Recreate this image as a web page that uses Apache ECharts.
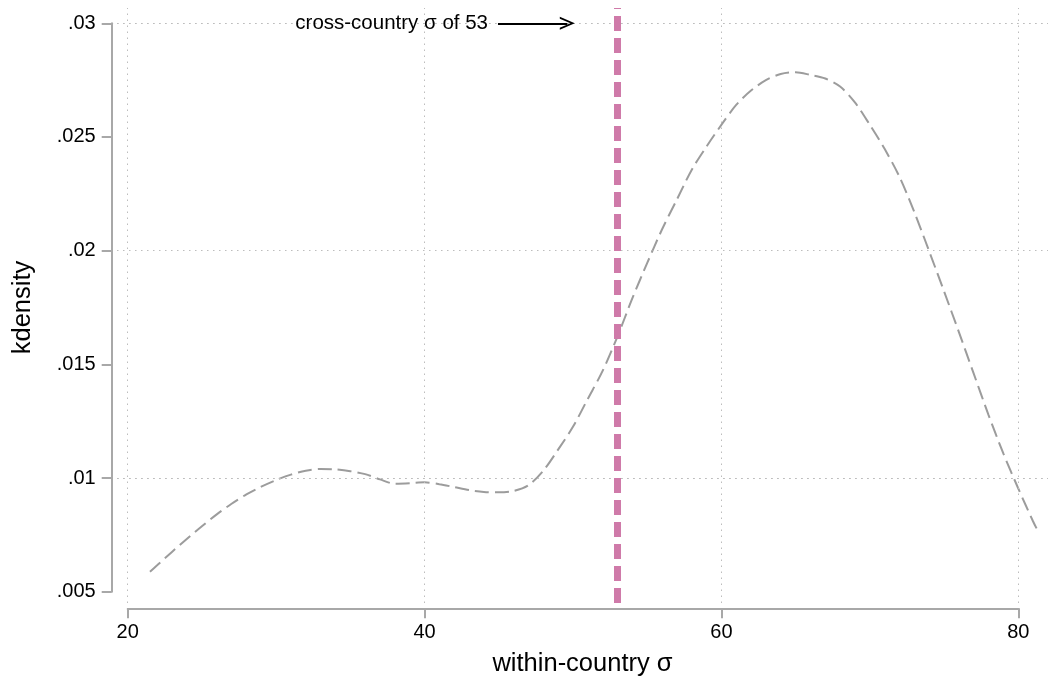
<!DOCTYPE html>
<html>
<head>
<meta charset="utf-8">
<script src="https://cdn.jsdelivr.net/npm/echarts@6/dist/echarts.min.js"></script>
<style>html,body{margin:0;padding:0;background:#fff}#c{width:1050px;height:685px}</style>
</head>
<body>
<div id="c"></div>
<script>
// ---- data ----
const curveX = [21.5, 22, 23, 24, 25, 26, 27, 28, 29, 30, 31, 32, 33, 34, 35, 36, 37, 38, 39, 40, 41, 42, 43, 44, 45, 46, 47, 48, 49, 50, 51, 52, 53, 54, 55, 56, 57, 58, 59, 60, 61, 62, 63, 64, 65, 66, 67, 68, 69, 70, 71, 72, 73, 74, 75, 76, 77, 78, 79, 80, 81, 81.4];
const curveY = [0.00588, 0.00617, 0.00676, 0.00733, 0.00788, 0.00840, 0.00887, 0.00928, 0.00962, 0.00991, 0.01015, 0.01032, 0.01040, 0.01038, 0.01030, 0.01017, 0.00994, 0.00975, 0.00977, 0.00981, 0.00973, 0.00960, 0.00947, 0.00939, 0.00937, 0.00943, 0.00968, 0.01032, 0.01125, 0.01225, 0.01348, 0.01471, 0.01622, 0.01790, 0.01945, 0.02093, 0.02224, 0.02355, 0.02458, 0.02553, 0.02641, 0.02704, 0.02750, 0.02777, 0.02785, 0.02773, 0.02757, 0.02722, 0.02652, 0.02554, 0.02448, 0.02325, 0.02170, 0.01998, 0.01822, 0.01643, 0.01460, 0.01278, 0.01108, 0.00955, 0.00810, 0.00758];
const xTicks = [20, 40, 60, 80];
const yTicks = [0.005, 0.01, 0.015, 0.02, 0.025, 0.03];
const crossCountry = 53;
const annotText = 'cross-country σ of 53';
const arrowFrom = [44.95, 0.03];
const arrowTo = [49.62, 0.03];

const FONT = '"Liberation Sans", Arial, Helvetica, sans-serif';
const curveData = curveX.map((x, i) => [x, curveY[i]]);
const fmtY = v => String(v).replace(/^0\./, '.');

const chart = echarts.init(document.getElementById('c'), null, {renderer: 'canvas'});
chart.setOption({
  animation: false,
  backgroundColor: '#fff',
  textStyle: {fontFamily: FONT},
  grid: [
    {left: 117, right: 2, top: 8, bottom: 82},
    {left: 127.7, right: 31.7, top: 23.3, bottom: 93.3}
  ],
  xAxis: [
    {gridIndex: 0, type: 'value', min: 19.279, max: 82.01,
     axisLine: {show: false}, axisTick: {show: false}, axisLabel: {show: false}, splitLine: {show: false},
     name: 'within-country σ', nameLocation: 'middle', nameGap: 48,
     nameTextStyle: {fontSize: 25.5, color: '#000', fontFamily: FONT}},
    {gridIndex: 1, type: 'value', min: 20, max: 80, interval: 20, offset: 16.6,
     axisLine: {show: true, lineStyle: {color: '#a8a8a8', width: 2}},
     axisTick: {show: true, length: 10, lineStyle: {color: '#a8a8a8', width: 2}},
     axisLabel: {show: true, margin: 14, fontSize: 20, color: '#000', fontFamily: FONT},
     splitLine: {show: false}}
  ],
  yAxis: [
    {gridIndex: 0, type: 'value', min: 0.004503, max: 0.030673,
     axisLine: {show: false}, axisTick: {show: false}, axisLabel: {show: false}, splitLine: {show: false}},
    {gridIndex: 1, type: 'value', min: 0.005, max: 0.03, interval: 0.005, offset: 16,
     axisLine: {show: true, lineStyle: {color: '#a8a8a8', width: 2}},
     axisTick: {show: true, length: 10, lineStyle: {color: '#a8a8a8', width: 2}},
     axisLabel: {show: true, margin: 16, fontSize: 20, color: '#000', fontFamily: FONT, formatter: fmtY},
     splitLine: {show: false},
     name: 'kdensity', nameLocation: 'middle', nameGap: 76,
     nameTextStyle: {fontSize: 25.5, color: '#000', fontFamily: FONT}}
  ],
  series: [
    {
      name: 'grid', type: 'line', xAxisIndex: 0, yAxisIndex: 0, data: [], silent: true, z: 1,
      markLine: {
        silent: true, symbol: 'none', label: {show: false},
        lineStyle: {color: '#bdbdbd', width: 1, type: [1.5, 4.5]},
        data: xTicks.map(v => ({xAxis: v})).concat(yTicks.map(v => ({yAxis: v})))
      }
    },
    {
      name: 'cross', type: 'line', xAxisIndex: 0, yAxisIndex: 0, data: [], silent: true, z: 2,
      markLine: {
        silent: true, symbol: 'none', label: {show: false},
        lineStyle: {color: '#cf7aa9', width: 7, type: [15, 7]},
        data: [{xAxis: crossCountry}]
      }
    },
    {
      name: 'kdensity', type: 'line', xAxisIndex: 0, yAxisIndex: 0, z: 3,
      data: curveData, smooth: 0.3, showSymbol: false, symbol: 'none',
      lineStyle: {color: '#9c9c9c', width: 2, type: [14, 6]},
      markLine: {
        silent: true,
        symbol: ['none', 'path://M0,14 L6,0 L12,14 L10.2,14 L6,4 L1.8,14 Z'],
        symbolSize: [13, 15],
        lineStyle: {color: '#000', width: 2, type: 'solid'},
        label: {show: true, position: 'start', distance: 10, formatter: annotText,
                color: '#000', fontSize: 20.5, fontFamily: FONT},
        data: [[{coord: arrowFrom}, {coord: arrowTo}]]
      }
    }
  ]
});
</script>
</body>
</html>
